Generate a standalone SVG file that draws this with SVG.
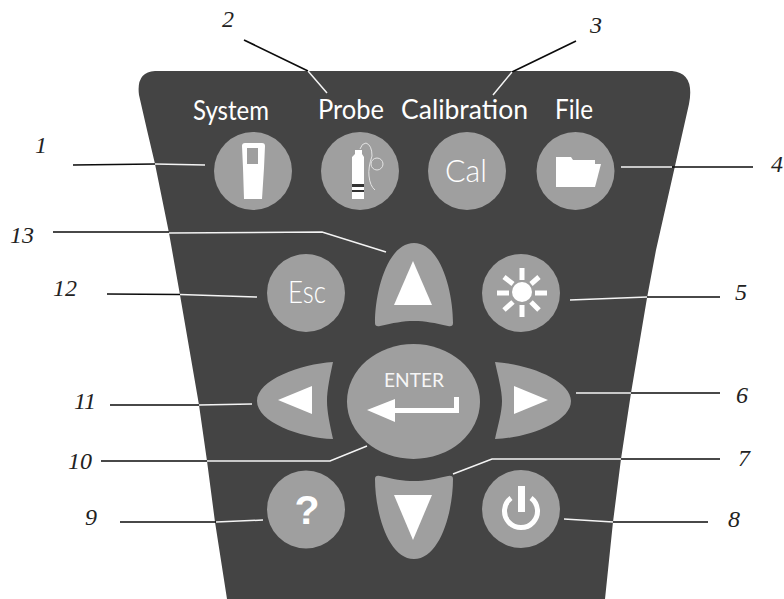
<svg xmlns="http://www.w3.org/2000/svg" width="784" height="599" viewBox="0 0 784 599">
<style>
.k{fill:#9f9f9f}.w{fill:#fff}
.f{font-family:"Lato","Open Sans",sans-serif;font-weight:300;fill:#fff}
.t{font-size:26px;font-weight:400}
.n{font-family:"Liberation Serif",serif;font-style:italic;font-size:24px;fill:#222;text-anchor:middle}
.b{fill:none;stroke:#0c0c0c;stroke-width:1.7}
.l{fill:none;stroke:#f4f4f4;stroke-width:1.5}
.c{fill:none;stroke:#e4e4e4;stroke-width:1}
</style>
<rect width="784" height="599" fill="#fff"/>
<path id="panel" d="M227,599 L215,522 L207,461 L199,405 L180,295 L169,233 L155,164 L147,130 L139,95 Q136,72 155,71 L672,71 Q695,73 689,104 L656,250 L647,298 L631,393 L621,459 L613,522 L605,599 Z" fill="#444"/>
<g id="connectors">
<path class="b" d="M73,165 L155,164M244,40 L308,71M576,41 L512,72M672,167 L753,167M647,297 H720M631,393 H720M621,459 H720M613,522 H708M120,522 H216M101,461 H207M110,405 H199M107,294 L180,294.500M53,232 H169"/>
<path class="l" d="M155,164 L205,165M308,71 L327,93M512,72 L493,95M621,167 H672M570,300 L647,297M576,393 H631M453,474 L492,459 H621M564,519 L613,522M216,522 L263,520M207,461 H330 L367,446M199,405 L252,404M180,294.500 L257,297M169,233 L322,232 L386,252"/>
</g>
<g id="labels">
<text class="f t" x="193" y="120" textLength="76" lengthAdjust="spacingAndGlyphs">System</text>
<text class="f t" x="318" y="119" textLength="66" lengthAdjust="spacingAndGlyphs">Probe</text>
<text class="f t" x="401" y="119" textLength="127" lengthAdjust="spacingAndGlyphs">Calibration</text>
<text class="f t" x="555" y="119" textLength="38" lengthAdjust="spacingAndGlyphs">File</text>
<text class="n" x="41" y="153">1</text>
<text class="n" x="228" y="27">2</text>
<text class="n" x="596" y="33">3</text>
<text class="n" x="777" y="172">4</text>
<text class="n" x="741" y="300">5</text>
<text class="n" x="742" y="403">6</text>
<text class="n" x="744" y="466">7</text>
<text class="n" x="734" y="527">8</text>
<text class="n" x="91" y="525">9</text>
<text class="n" x="80" y="469">10</text>
<text class="n" x="85" y="409">11</text>
<text class="n" x="65" y="296">12</text>
<text class="n" x="22" y="243">13</text>
</g>
<g id="system"><circle class="k" cx="253" cy="171" r="39"/><path class="w" d="M242,146 Q242,143 245,143 H262 Q265,143 265,146 L264,168 L262,199 H244 L243,168 Z"/><rect x="247" y="148" width="11" height="16" fill="#9f9f9f"/></g>
<g id="probe"><circle class="k" cx="360" cy="171" r="39"/><path class="w" d="M352,157 L355,154 V150 H362 V154 L364,157 V199 H352 Z"/><rect x="352" y="184" width="12" height="3" fill="#333"/><rect x="352" y="190" width="12" height="2" fill="#333"/><path d="M360,149 Q362,143 366,143 Q372,145 372,156 Q368,168 369,176 Q370,186 375,190" class="c"/><circle cx="377" cy="164" r="6" class="c"/></g>
<g id="cal"><circle class="k" cx="467" cy="171" r="39"/><text class="f" x="445" y="182" font-size="32" textLength="42" lengthAdjust="spacingAndGlyphs">Cal</text></g>
<g id="file"><circle class="k" cx="575.500" cy="171" r="39"/><path class="w" d="M556,157 H571 L573,160 H595 V164 H563 V187 H556 Z"/><path class="w" d="M563,164 H601 L595,187 H556 Z"/></g>
<g id="up"><path class="k" d="M375,323 C375,290 388,243 414,243 C440,243 453,290 453,323 Q453,327 448,326 C435,323 425,321 414,321 C403,321 393,323 380,326 Q375,327 375,323Z"/><path class="w" d="M413,261 L432,305 H394 Z"/></g>
<g id="esc"><circle class="k" cx="306" cy="293" r="39"/><text class="f" x="288" y="303" font-size="31" textLength="38" lengthAdjust="spacingAndGlyphs">Esc</text></g>
<g id="light"><circle class="k" cx="521" cy="293" r="39"/><circle class="w" cx="522" cy="292" r="10"/><path stroke="#fff" stroke-width="5" d="M522,268 V280M522,305 V317M497,293 H509M535,293 H547M504,277 L513,284M539,277 L531,284M504,310 L513,302M539,310 L531,302"/></g>
<g id="left"><path class="k" d="M333,362 C300,364 257,380 257,401 C257,422 300,438 333,439 C330,425 327,412 327,401 C327,390 330,376 333,362Z"/><path class="w" d="M278,400 L312,386 V414 Z"/></g>
<g id="enter"><ellipse class="k" cx="413.500" cy="401.500" rx="66.500" ry="57.500"/><text x="384" y="387" font-family="Lato,sans-serif" font-size="20" fill="#f6f6f6" textLength="60" lengthAdjust="spacingAndGlyphs">ENTER</text><path class="w" d="M367,410 L395,399 V408 H454 V397 H459 V413 H395 V422 Z"/></g>
<g id="right"><path class="k" d="M495,362 C528,364 571,380 571,401 C571,422 528,438 495,439 C498,425 502,412 502,401 C502,390 498,376 495,362Z"/><path class="w" d="M548,400 L514,386 V414 Z"/></g>
<g id="help"><circle class="k" cx="306" cy="509.500" r="39"/><text x="307" y="524" text-anchor="middle" font-family="'Liberation Sans',sans-serif" font-weight="bold" font-size="41" fill="#fff">?</text></g>
<g id="down"><path class="k" d="M375,479 C375,512 388,559 414,559 C440,559 453,512 453,479 Q453,475 448,476 C435,479 425,481 414,481 C403,481 393,479 380,476 Q375,475 375,479Z"/><path class="w" d="M413,540 L432,495 H394 Z"/></g>
<g id="power"><circle class="k" cx="521" cy="509" r="39"/><path d="M511,498 A16.500,16.500 0 1 0 531,498" fill="none" stroke="#fff" stroke-width="5"/><rect class="w" x="518" y="486" width="7" height="26"/></g>
</svg>
